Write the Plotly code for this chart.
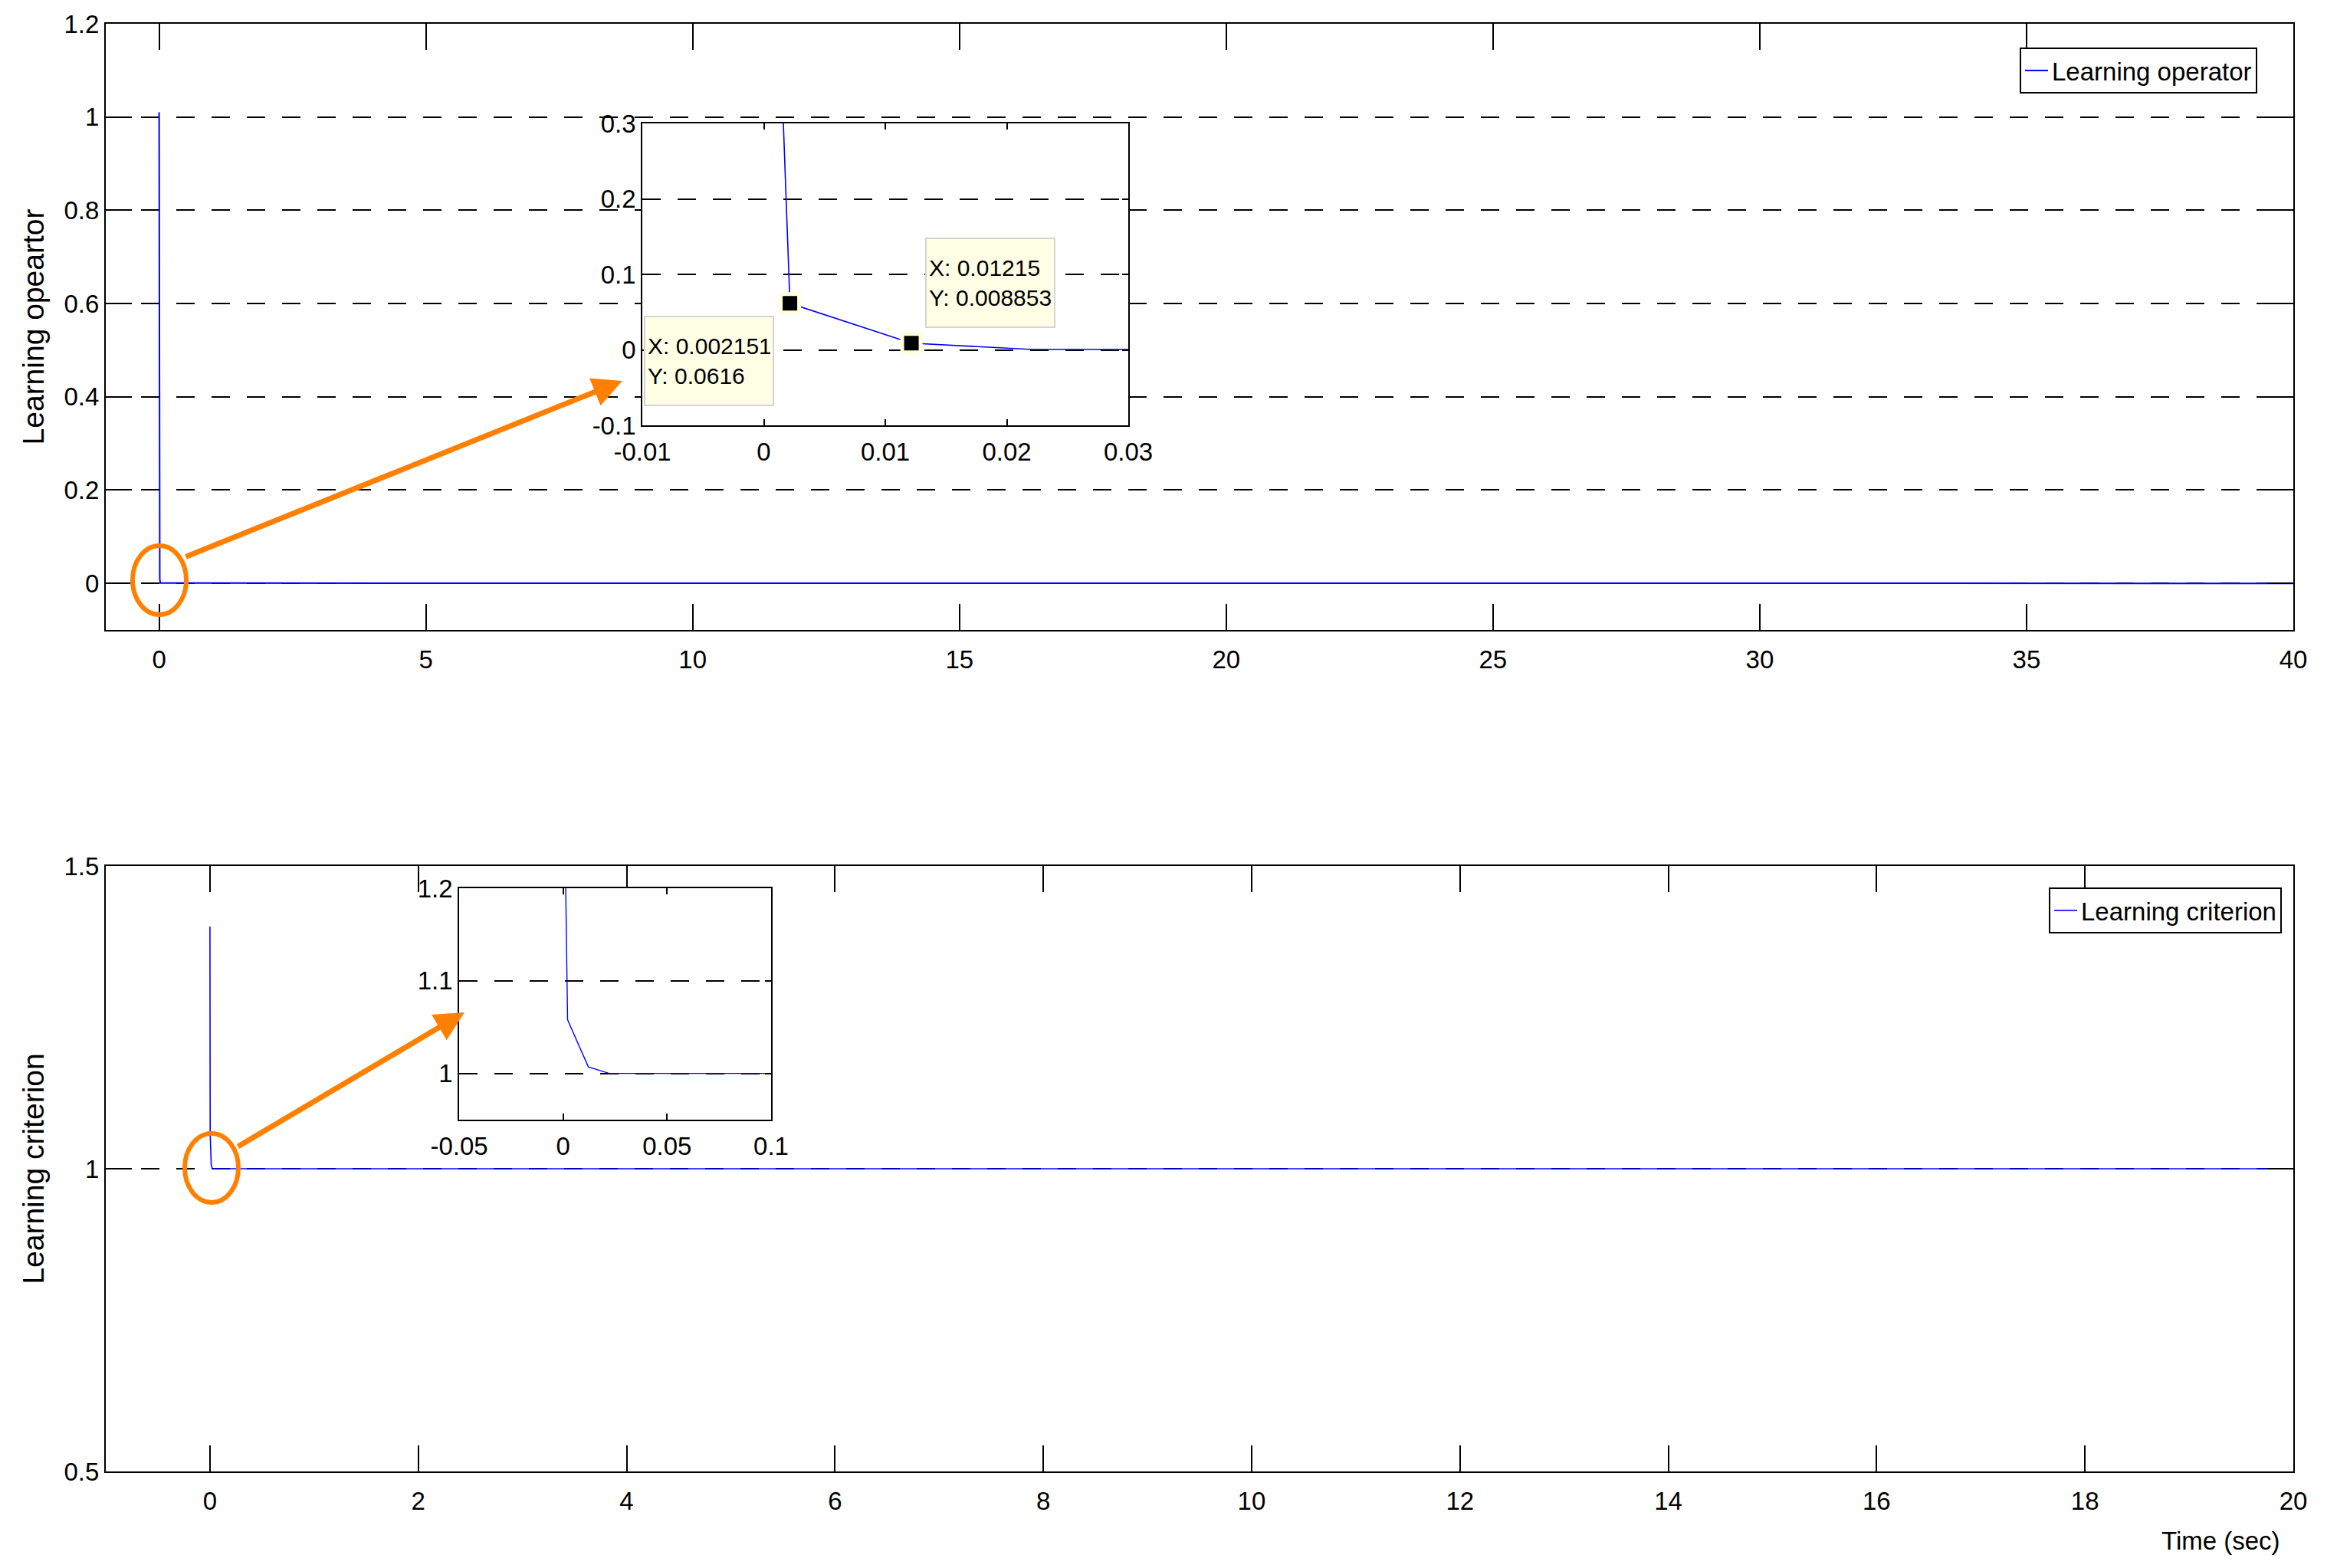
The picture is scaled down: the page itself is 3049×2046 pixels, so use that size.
import plotly.graph_objects as go

# ---------------- data ----------------
t_operator = [0.0, 0.002151, 0.01215, 0.02215, 40.0]
learning_operator = [1.01, 0.0616, 0.008853, 0.0005, 0.0]

t_criterion = [0.0, 0.002151, 0.01215, 0.02215, 20.0]
learning_criterion = [1.40, 1.058, 1.007, 1.0, 1.0]

datatip_x = [0.002151, 0.01215]
datatip_y = [0.0616, 0.008853]
datatip_text = ["X: 0.002151<br>Y: 0.0616", "X: 0.01215<br>Y: 0.008853"]

top_xticks = [0, 5, 10, 15, 20, 25, 30, 35, 40]
top_yticks = [0, 0.2, 0.4, 0.6, 0.8, 1.0, 1.2]
top_ytext = ["0", "0.2", "0.4", "0.6", "0.8", "1", "1.2"]
bot_xticks = [0, 2, 4, 6, 8, 10, 12, 14, 16, 18, 20]
bot_yticks = [0.5, 1.0, 1.5]
bot_ytext = ["0.5", "1", "1.5"]
in1_xticks = [-0.01, 0, 0.01, 0.02, 0.03]
in1_xtext = ["-0.01", "0", "0.01", "0.02", "0.03"]
in1_yticks = [-0.1, 0, 0.1, 0.2, 0.3]
in1_ytext = ["-0.1", "0", "0.1", "0.2", "0.3"]
in2_xticks = [-0.05, 0, 0.05, 0.1]
in2_xtext = ["-0.05", "0", "0.05", "0.1"]
in2_yticks = [1.0, 1.1, 1.2]
in2_ytext = ["1", "1.1", "1.2"]

# ---------------- layout helpers ----------------
W, H = 3049, 2046
FONT = "Liberation Sans, Arial, Helvetica, sans-serif"
BLUE = "#0000FF"
ORANGE = "#FF8000"


def px(p):
    return p / W


def py(p):
    return 1 - p / H


fig = go.Figure()

fig.add_trace(go.Scatter(x=t_operator, y=learning_operator, mode="lines",
                         name="Learning operator", line=dict(color=BLUE, width=2),
                         xaxis="x", yaxis="y", legend="legend"))
fig.add_trace(go.Scatter(x=t_criterion, y=learning_criterion, mode="lines",
                         name="Learning criterion", line=dict(color=BLUE, width=1.6),
                         xaxis="x2", yaxis="y2", legend="legend2"))
fig.add_trace(go.Scatter(x=t_operator, y=learning_operator, mode="lines",
                         showlegend=False, line=dict(color=BLUE, width=1.6),
                         xaxis="x3", yaxis="y3"))
fig.add_trace(go.Scatter(x=datatip_x, y=datatip_y, mode="markers", showlegend=False,
                         marker=dict(symbol="square", size=24, color="black",
                                     line=dict(color="#FFFFDD", width=5)),
                         xaxis="x3", yaxis="y3"))
fig.add_trace(go.Scatter(x=t_criterion, y=learning_criterion, mode="lines",
                         showlegend=False, line=dict(color=BLUE, width=1.4),
                         xaxis="x4", yaxis="y4"))

main_ax = dict(showline=True, linecolor="black", linewidth=2, mirror="allticks",
               ticks="inside", ticklen=34, tickwidth=2, tickcolor="black",
               zeroline=False, showgrid=False, automargin=False,
               tickfont=dict(size=33, family=FONT, color="black"))
inset_ax = dict(showline=True, linecolor="black", linewidth=1.8, mirror="allticks",
                ticks="inside", ticklen=8, tickwidth=1.5, tickcolor="black",
                zeroline=False, showgrid=False, automargin=False,
                tickfont=dict(size=33, family=FONT, color="black"))
grid = dict(showgrid=True, gridcolor="black", gridwidth=1.5, griddash="24px,22px")
title_font = dict(size=39, family=FONT, color="black")

fig.update_layout(
    width=W, height=H,
    margin=dict(l=0, r=0, t=0, b=0),
    paper_bgcolor="white", plot_bgcolor="white",
    font=dict(family=FONT, color="black", size=33),
    xaxis=dict(main_ax, domain=[px(138), px(2992)], range=[-1, 40],
               tickvals=top_xticks, anchor="y", ticklabelstandoff=8),
    yaxis=dict(main_ax, **grid, domain=[py(822), py(31)], range=[-0.1, 1.2],
               tickvals=top_yticks, ticktext=top_ytext, anchor="x",
               title=dict(text="Learning opeartor", font=title_font, standoff=14)),
    xaxis2=dict(main_ax, domain=[px(138), px(2992)], range=[-1, 20],
                tickvals=bot_xticks, anchor="y2", ticklabelstandoff=8),
    yaxis2=dict(main_ax, **grid, domain=[py(1920), py(1130)], range=[0.5, 1.5],
                tickvals=bot_yticks, ticktext=bot_ytext, anchor="x2",
                title=dict(text="Learning criterion", font=title_font, standoff=14)),
    xaxis3=dict(inset_ax, domain=[px(838), px(1472)], range=[-0.01, 0.03],
                tickvals=in1_xticks, ticktext=in1_xtext, anchor="y3", ticklabelstandoff=4),
    yaxis3=dict(inset_ax, **grid, domain=[py(555), py(161)], range=[-0.1, 0.3],
                tickvals=in1_yticks, ticktext=in1_ytext, anchor="x3"),
    xaxis4=dict(inset_ax, domain=[px(599), px(1006)], range=[-0.05, 0.1],
                tickvals=in2_xticks, ticktext=in2_xtext, anchor="y4", ticklabelstandoff=4),
    yaxis4=dict(inset_ax, **grid, domain=[py(1461), py(1159)], range=[0.95, 1.2],
                tickvals=in2_yticks, ticktext=in2_ytext, anchor="x4"),
    legend=dict(x=px(2945), y=py(62), xanchor="right", yanchor="top",
                bordercolor="black", borderwidth=2, bgcolor="white",
                font=dict(size=33, family=FONT, color="black")),
    legend2=dict(x=px(2977), y=py(1158), xanchor="right", yanchor="top",
                 bordercolor="black", borderwidth=2, bgcolor="white",
                 font=dict(size=33, family=FONT, color="black")),
    showlegend=True,
)

# orange ellipses around the initial transient
fig.add_shape(type="circle", xref="paper", yref="paper",
              x0=px(173), x1=px(243), y0=py(802), y1=py(712),
              line=dict(color=ORANGE, width=6))
fig.add_shape(type="circle", xref="paper", yref="paper",
              x0=px(241), x1=px(311), y0=py(1569), y1=py(1479),
              line=dict(color=ORANGE, width=6))

# orange arrows pointing to insets
fig.add_annotation(xref="paper", yref="paper", x=px(812), y=py(497),
                   ax=241 - 812, ay=727 - 497, axref="pixel", ayref="pixel",
                   text="", showarrow=True, arrowhead=2, arrowsize=1.1,
                   arrowwidth=7, arrowcolor=ORANGE)
fig.add_annotation(xref="paper", yref="paper", x=px(606), y=py(1321),
                   ax=309 - 606, ay=1497 - 1321, axref="pixel", ayref="pixel",
                   text="", showarrow=True, arrowhead=2, arrowsize=1.1,
                   arrowwidth=7, arrowcolor=ORANGE)

# data tips
tip_boxes = [(924.5, 470.5), (1291.5, 369)]
for (cx, cy), txt in zip(tip_boxes, datatip_text):
    fig.add_annotation(xref="paper", yref="paper", x=px(cx), y=py(cy),
                       xanchor="center", yanchor="middle", showarrow=False,
                       text=txt, align="left", width=160, height=108,
                       bgcolor="#FFFFE6", bordercolor="#D4D4D4", borderwidth=2,
                       borderpad=3, font=dict(size=30, family=FONT, color="black"))

# x label of the lower plot (placed at the right, as in the original)
fig.add_annotation(xref="paper", yref="paper", x=px(2977), y=py(2010),
                   xanchor="right", yanchor="middle", showarrow=False,
                   text="Time (sec)", font=dict(size=33, family=FONT, color="black"))

fig.write_html("out.html", config={"displayModeBar": False},
               post_script="document.body.style.margin='0';document.body.style.overflow='hidden';")
